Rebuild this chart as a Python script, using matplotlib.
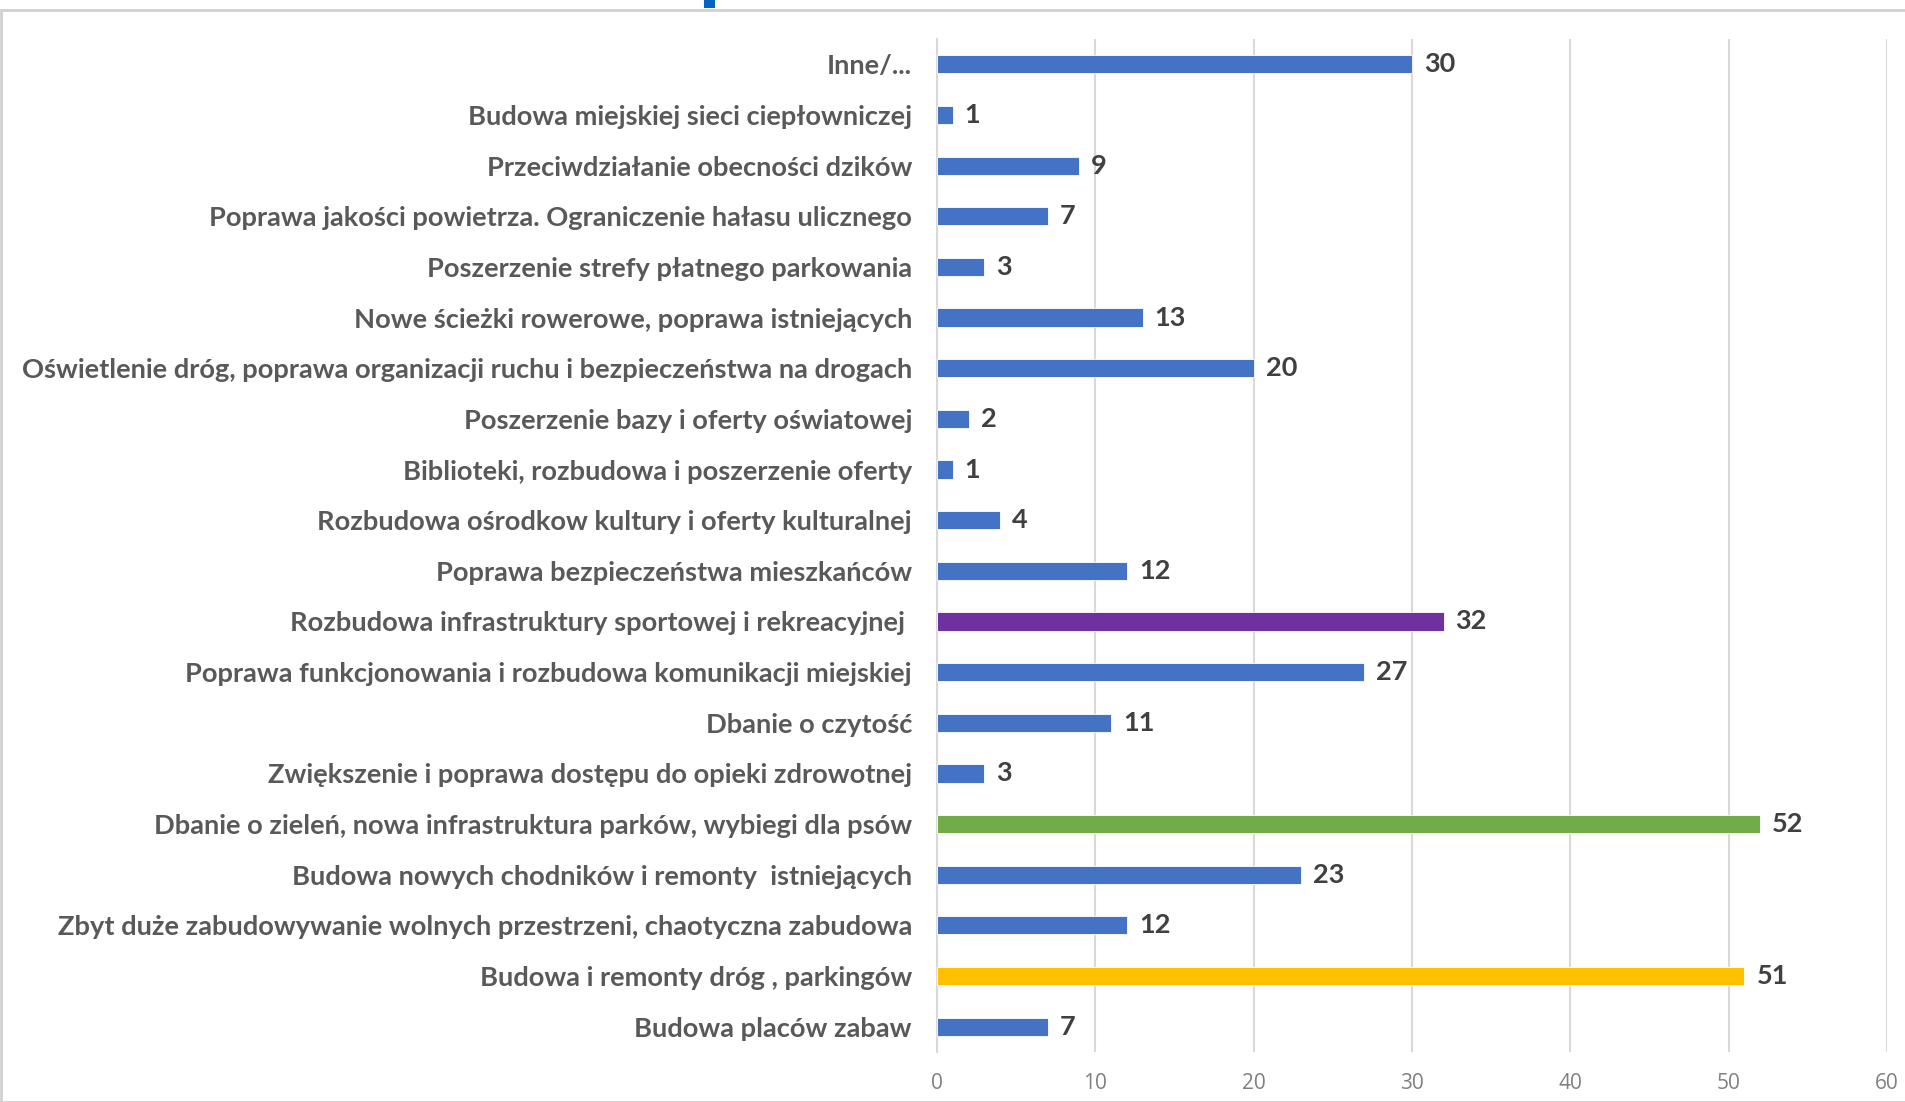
import matplotlib
matplotlib.use("Agg")
import matplotlib.pyplot as plt
from matplotlib.patches import Rectangle

categories = [
    "Inne/...",
    "Budowa miejskiej sieci ciepłowniczej",
    "Przeciwdziałanie obecności dzików",
    "Poprawa jakości powietrza. Ograniczenie hałasu ulicznego",
    "Poszerzenie strefy płatnego parkowania",
    "Nowe ścieżki rowerowe, poprawa istniejących",
    "Oświetlenie dróg, poprawa organizacji ruchu i bezpieczeństwa na drogach",
    "Poszerzenie bazy i oferty oświatowej",
    "Biblioteki, rozbudowa i poszerzenie oferty",
    "Rozbudowa ośrodkow kultury i oferty kulturalnej",
    "Poprawa bezpieczeństwa mieszkańców",
    "Rozbudowa infrastruktury sportowej i rekreacyjnej ",
    "Poprawa funkcjonowania i rozbudowa komunikacji miejskiej",
    "Dbanie o czytość",
    "Zwiększenie i poprawa dostępu do opieki zdrowotnej",
    "Dbanie o zieleń, nowa infrastruktura parków, wybiegi dla psów",
    "Budowa nowych chodników i remonty  istniejących",
    "Zbyt duże zabudowywanie wolnych przestrzeni, chaotyczna zabudowa",
    "Budowa i remonty dróg , parkingów",
    "Budowa placów zabaw",
]
values = [30, 1, 9, 7, 3, 13, 20, 2, 1, 4, 12, 32, 27, 11, 3, 52, 23, 12, 51, 7]
BLUE, PURPLE, GREEN, YELLOW = "#4472C4", "#7030A0", "#70AD47", "#FFC000"
colors = [BLUE] * len(values)
colors[11] = PURPLE
colors[15] = GREEN
colors[18] = YELLOW
xticks = [0, 10, 20, 30, 40, 50, 60]

fig = plt.figure(figsize=(19.06, 11.02), dpi=100)
fig.patch.set_facecolor("white")

# outer frame and small blue marker at top
fig.add_artist(Rectangle((1 / 1906, 0), 1.2, 1 - 10 / 1102, transform=fig.transFigure,
                         fill=False, edgecolor="#d0d0d0", linewidth=2))
fig.add_artist(Rectangle((704 / 1906, 1 - 8 / 1102), 11 / 1906, 8 / 1102,
                         transform=fig.transFigure, facecolor="#0563C1", edgecolor="none"))

ax = fig.add_axes([937 / 1906, 1 - 1052 / 1102, (1887 - 937) / 1906, (1052 - 39) / 1102])
n = len(values)
ypos = list(range(n - 1, -1, -1))
ax.barh(ypos, values, height=0.36, color=colors, edgecolor="white", linewidth=0.6, zorder=3)

for y, v in zip(ypos, values):
    ax.text(v + 0.75, y, str(v), va="center", ha="left", fontsize=19.5, fontweight="bold",
            color="#404040", family="Lato")

ax.set_xlim(0, 60)
ax.set_ylim(-0.5, n - 0.5)
ax.set_xticks(xticks)
ax.set_xticklabels([str(t) for t in xticks], fontsize=15, color="#808080", family="Open Sans")
ax.set_yticks(ypos)
ax.set_yticklabels(categories, fontsize=19.6, color="#595959", family="Lato", fontweight="bold")
ax.tick_params(axis="both", length=0)
ax.tick_params(axis="y", pad=18)
ax.tick_params(axis="x", pad=15)
ax.grid(axis="x", color="#d9d9d9", linewidth=1.5, zorder=0)
ax.set_axisbelow(True)
for s in ["top", "right", "bottom"]:
    ax.spines[s].set_visible(False)
ax.spines["left"].set_color("#d9d9d9")
ax.spines["left"].set_linewidth(1.5)

fig.savefig("out.png", dpi=100)
